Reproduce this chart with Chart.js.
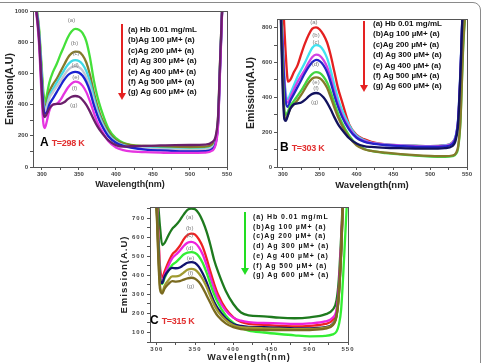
<!DOCTYPE html>
<html>
<head>
<meta charset="utf-8">
<script src="https://cdn.jsdelivr.net/npm/chart.js@4.4.0/dist/chart.umd.min.js"></script>
<style>
  body { margin: 0; width: 487px; height: 363px; overflow: hidden; background: #fff; position: relative;
         font-family: "Liberation Sans", Arial, sans-serif; }
  .frame { position: absolute; left: -10px; top: 2px; width: 489px; height: 400px; border: 1px solid #8a8a8a; border-radius: 8px; }
  .panel { position: absolute; }
  .legend { position: absolute; font-weight: bold; font-size: 8px; line-height: 10.4px; color: #111; white-space: nowrap; }
  .legend.wide { font-size: 7px; letter-spacing: 0.9px; line-height: 9.7px; }
  .arrow { position: absolute; width: 2px; }
  .arrow::after { content: ""; position: absolute; left: -3px; bottom: -6px; border-left: 4px solid transparent;
                  border-right: 4px solid transparent; border-top: 7px solid currentColor; }
  .tag { position: absolute; font-weight: bold; white-space: nowrap; }
  .tag b { font-size: 12px; color: #000; margin-right: 3px; }
  .tag span { font-size: 9px; color: #e23030; letter-spacing: -0.3px; }
</style>
</head>
<body>
<div class="frame"></div>

<div class="panel" style="left:0;top:0"><canvas id="chartA" width="236" height="192"></canvas></div>
<div class="panel" style="left:241px;top:0"><canvas id="chartB" width="234" height="192"></canvas></div>
<div class="panel" style="left:115px;top:195px"><canvas id="chartC" width="241" height="168"></canvas></div>

<div class="arrow" style="left:121px;top:24px;height:70px;background:#e52222;color:#e52222"></div>
<div class="legend" style="left:128px;top:25px">
  (a) Hb 0.01 mg/mL<br>(b)Ag 100 µM+ (a)<br>(c)Ag 200 µM+ (a)<br>(d) Ag 300 µM+ (a)<br>(e) Ag 400 µM+ (a)<br>(f) Ag 500 µM+ (a)<br>(g) Ag 600 µM+ (a)
</div>
<div class="tag" style="left:40px;top:132px"><b>A</b><span>T=298 K</span></div>

<div class="arrow" style="left:363px;top:21px;height:65px;background:#e52222;color:#e52222"></div>
<div class="legend" style="left:373px;top:19px">
  (a) Hb 0.01 mg/mL<br>(b)Ag 100 µM+ (a)<br>(c)Ag 200 µM+ (a)<br>(d) Ag 300 µM+ (a)<br>(e) Ag 400 µM+ (a)<br>(f) Ag 500 µM+ (a)<br>(g) Ag 600 µM+ (a)
</div>
<div class="tag" style="left:280px;top:137px"><b>B</b><span>T=303 K</span></div>

<div class="arrow" style="left:244px;top:212px;height:57px;background:#22dd22;color:#22dd22"></div>
<div class="legend wide" style="left:253px;top:212px">
  (a) Hb 0.01 mg/mL<br>(b)Ag 100 µM+ (a)<br>(c)Ag 200 µM+ (a)<br>(d) Ag 300 µM+ (a)<br>(e) Ag 400 µM+ (a)<br>(f) Ag 500 µM+ (a)<br>(g) Ag 600 µM+ (a)
</div>
<div class="tag" style="left:150px;top:310px"><b>C</b><span>T=315 K</span></div>

<script>
'use strict';

// ***** DATA *****
const wavelengths = [290, 296, 300, 302, 304, 307, 310, 315, 320, 325, 330, 335, 340, 345, 350, 355, 360, 365,
  370, 375, 380, 390, 400, 410, 420, 440, 460, 480, 500, 520, 530, 535, 538, 541, 545, 550];
const curveNames = ['(a)', '(b)', '(c)', '(d)', '(e)', '(f)', '(g)'];
const xTickLabels = [300, 350, 400, 450, 500, 550];

// A, T=298 K
const a298 = [1100, 900, 620, 480, 415, 470, 540, 610, 660, 720, 775, 830, 868, 885, 880, 858, 805, 700, 560, 450, 370, 245, 185, 155, 142, 133, 128, 125, 122, 125, 140, 180, 300, 700, 1100, 1100];
const b298 = [1100, 880, 580, 440, 385, 420, 480, 530, 565, 610, 655, 700, 728, 740, 738, 715, 670, 590, 480, 390, 320, 225, 172, 150, 140, 135, 132, 130, 128, 130, 145, 190, 320, 720, 1100, 1100];
const c298 = [1100, 870, 560, 420, 370, 400, 455, 500, 540, 580, 620, 655, 678, 685, 680, 658, 615, 545, 450, 365, 300, 210, 163, 140, 130, 122, 118, 115, 112, 115, 128, 170, 300, 700, 1100, 1100];
const d298 = [1100, 860, 550, 410, 360, 390, 440, 480, 515, 550, 588, 620, 640, 645, 640, 618, 575, 510, 425, 345, 288, 203, 160, 138, 128, 120, 115, 112, 110, 112, 125, 168, 295, 690, 1100, 1100];
const e298 = [1100, 850, 530, 390, 340, 355, 400, 440, 480, 520, 558, 588, 604, 610, 605, 585, 545, 485, 400, 330, 275, 195, 155, 135, 125, 112, 106, 102, 100, 102, 115, 160, 285, 680, 1100, 1100];
const f298 = [1100, 800, 420, 280, 250, 300, 360, 400, 405, 430, 470, 508, 535, 547, 542, 520, 480, 420, 350, 285, 240, 165, 125, 108, 100, 95, 92, 90, 90, 92, 105, 150, 270, 660, 1100, 1100];
const g298 = [1100, 830, 480, 350, 320, 345, 375, 400, 405, 405, 415, 435, 450, 455, 450, 430, 398, 355, 305, 260, 225, 170, 140, 130, 133, 136, 138, 140, 141, 143, 160, 205, 330, 720, 1100, 1100];

// B, T=303 K
const a303 = [1000, 1000, 950, 800, 640, 490, 500, 545, 585, 650, 710, 760, 795, 802, 790, 760, 715, 640, 545, 450, 380, 245, 185, 160, 145, 130, 125, 122, 120, 125, 140, 180, 260, 500, 900, 1000];
const b303 = [1000, 1000, 700, 520, 420, 390, 420, 470, 520, 560, 600, 645, 685, 700, 695, 670, 625, 555, 470, 390, 330, 240, 180, 155, 140, 130, 125, 122, 120, 125, 140, 185, 280, 550, 950, 1000];
const c303 = [1000, 1000, 680, 500, 400, 370, 400, 445, 490, 525, 560, 600, 632, 645, 640, 615, 575, 510, 430, 360, 305, 225, 172, 150, 138, 128, 124, 120, 118, 122, 138, 180, 275, 540, 950, 1000];
const d303 = [1000, 1000, 650, 470, 370, 345, 380, 420, 460, 500, 540, 575, 602, 615, 608, 585, 545, 485, 410, 345, 292, 215, 168, 146, 135, 125, 120, 116, 115, 118, 132, 175, 270, 530, 950, 1000];
const e303 = [1000, 980, 520, 330, 300, 320, 350, 380, 410, 440, 475, 510, 535, 545, 540, 520, 485, 430, 365, 305, 255, 180, 130, 105, 92, 80, 72, 65, 60, 58, 62, 75, 110, 250, 700, 1000];
const f303 = [1000, 970, 480, 300, 275, 300, 335, 360, 385, 415, 450, 485, 508, 515, 510, 490, 455, 400, 340, 285, 240, 170, 125, 102, 92, 82, 74, 68, 64, 62, 66, 80, 120, 260, 720, 1000];
const g303 = [1000, 960, 420, 275, 265, 300, 335, 360, 365, 370, 385, 405, 420, 425, 420, 400, 370, 330, 285, 245, 215, 165, 135, 120, 115, 110, 108, 106, 105, 108, 120, 160, 250, 520, 950, 1000];

// C, T=315 K
const a315 = [900, 900, 850, 760, 660, 560, 570, 610, 645, 665, 690, 720, 745, 752, 748, 725, 685, 630, 560, 480, 420, 320, 250, 205, 190, 185, 178, 175, 180, 195, 220, 270, 380, 600, 900, 900];
const b315 = [900, 900, 800, 620, 450, 390, 420, 470, 510, 530, 555, 590, 612, 620, 615, 590, 550, 490, 420, 355, 300, 225, 180, 155, 145, 140, 135, 132, 135, 145, 165, 210, 320, 550, 900, 900];
const c315 = [900, 900, 780, 600, 420, 370, 400, 450, 490, 510, 530, 555, 572, 577, 570, 548, 510, 455, 390, 330, 280, 215, 178, 162, 155, 150, 148, 145, 148, 158, 178, 220, 330, 560, 900, 900];
const d315 = [900, 900, 760, 570, 400, 355, 385, 425, 455, 470, 490, 510, 520, 523, 518, 500, 465, 415, 355, 300, 255, 190, 150, 125, 110, 100, 92, 85, 80, 82, 90, 105, 140, 220, 500, 900];
const e315 = [900, 900, 740, 540, 380, 360, 395, 425, 440, 438, 442, 455, 467, 470, 465, 445, 410, 365, 310, 260, 225, 175, 145, 135, 130, 128, 125, 122, 122, 128, 145, 190, 300, 520, 900, 900];
const f315 = [900, 900, 720, 500, 350, 315, 345, 375, 395, 395, 400, 415, 430, 435, 430, 410, 380, 340, 290, 245, 210, 165, 138, 128, 125, 122, 120, 118, 118, 125, 142, 188, 295, 515, 900, 900];
const g315 = [900, 900, 700, 480, 330, 305, 330, 355, 370, 368, 370, 378, 385, 388, 383, 365, 335, 295, 255, 215, 185, 148, 128, 118, 115, 113, 112, 112, 113, 120, 138, 185, 290, 510, 900, 900];

// where the little (a)..(g) tags sit, in data units
const tagX298 = [340, 344, 346, 345, 346, 344, 343];
const tagY298 = [938, 793, 729, 654, 572, 504, 395];
const tagX303 = [342, 345, 345, 344, 345, 345, 343];
const tagY303 = [833, 756, 716, 592, 487, 450, 373];
const tagX315 = [343, 343, 343, 343, 344, 344, 344];
const tagY315 = [703, 650, 610, 541, 492, 410, 341];

const yTicks298 = [0, 200, 400, 600, 800, 1000];
const yTicks303 = [0, 200, 400, 600, 800];
const yTicks315 = [100, 200, 300, 400, 500, 600, 700];

// ***** PLUGINS *****
const plotFrame = {
  id: 'plotFrame',
  beforeDraw(chart, args, opts) {
    chart.ctx.letterSpacing = opts.spacing || '0px';
  },
  afterDatasetsDraw(chart) {
    const {ctx, chartArea: a} = chart;
    ctx.save();
    ctx.strokeStyle = '#555';
    ctx.lineWidth = 1;
    ctx.strokeRect(Math.round(a.left) + 0.5, Math.round(a.top) + 0.5, Math.round(a.right - a.left), Math.round(a.bottom - a.top));
    ctx.restore();
  },
  afterDraw(chart, args, opts) {
    const {ctx, scales} = chart;
    ctx.save();
    ctx.letterSpacing = '0px';
    ctx.font = '6px "Liberation Sans", Arial, sans-serif';
    ctx.fillStyle = '#7a7a7a';
    ctx.textAlign = 'center';
    ctx.textBaseline = 'middle';
    (opts.tagX || []).forEach((x, i) => {
      ctx.fillText(curveNames[i], scales.x.getPixelForValue(x), scales.y.getPixelForValue(opts.tagY[i]));
    });
    ctx.restore();
  }
};

// ***** CHART BUILDER *****
function makeSeries(list, colors) {
  return list.map((values, i) => ({
    label: curveNames[i],
    data: wavelengths.map((w, j) => ({x: w, y: values[j]})),
    borderColor: colors[i],
    borderWidth: 2.3,
    pointRadius: 0,
    fill: false,
    cubicInterpolationMode: 'monotone'
  }));
}

function axisFont(size) {
  return {family: '"Liberation Sans", Arial, sans-serif', size: size, weight: 'bold'};
}

function renderPanel(id, series, colors, o) {
  new Chart(document.getElementById(id), {
    type: 'line',
    data: {datasets: makeSeries(series, colors).reverse()},
    plugins: [plotFrame],
    options: {
      responsive: false,
      animation: false,
      layout: {padding: {top: o.padTop, right: o.padRight, left: 0, bottom: 0}},
      plugins: {
        legend: {display: false},
        tooltip: {enabled: false},
        plotFrame: {tagX: o.tagX, tagY: o.tagY, spacing: o.spacing}
      },
      scales: {
        x: {
          type: 'linear', min: o.xMin, max: 550,
          afterFit(s) { s.height = o.xH; },
          afterBuildTicks(s) {
            const t = [];
            for (let v = 300; v <= 550; v += 25) t.push({value: v});
            s.ticks = t;
          },
          ticks: {
            autoSkip: false, maxRotation: 0, padding: 1, color: '#444', font: axisFont(6),
            callback: v => xTickLabels.includes(v) ? String(v) : ''
          },
          grid: {drawOnChartArea: false, tickLength: 3, color: '#555'},
          border: {display: false},
          title: {display: true, text: 'Wavelength(nm)', color: '#222', font: axisFont(o.xTitleSize), padding: {top: 0, bottom: o.titlePad}}
        },
        y: {
          min: o.yMin, max: o.yMax,
          afterFit(s) { s.width = o.yW; },
          afterBuildTicks(s) {
            const t = [];
            for (let v = o.yFirst; v <= o.yMax; v += o.yMinor) t.push({value: v});
            s.ticks = t;
          },
          ticks: {
            autoSkip: false, padding: 2, color: '#444', font: axisFont(6),
            callback: v => o.yLabels.includes(v) ? String(v) : ''
          },
          grid: {drawOnChartArea: false, tickLength: 3, color: '#555'},
          border: {display: false},
          title: {display: true, text: 'Emission(A.U)', color: '#222', font: axisFont(o.yTitleSize), padding: {top: 4, bottom: 0}}
        }
      }
    }
  });
}

// ***** EXECUTABLE CODE *****
renderPanel('chartA', [a298, b298, c298, d298, e298, f298, g298],
  ['#44e03a', '#857a2a', '#3fd9e6', '#c4c6d0', '#1a22d0', '#e535e0', '#6a1f6a'],
  {padTop: 11, padRight: 9, xMin: 288, xH: 25, yW: 33, yMin: 0, yMax: 1000, yFirst: 0, yMinor: 100,
   yLabels: yTicks298, titlePad: 2, tagX: tagX298, tagY: tagY298, xTitleSize: 9, yTitleSize: 10.5});

renderPanel('chartB', [a303, b303, c303, d303, e303, f303, g303],
  ['#e42020', '#3fe2f0', '#d042e4', '#2424c8', '#42d442', '#857a2a', '#12125e'],
  {padTop: 19, padRight: 8, xMin: 292, xH: 25, yW: 36, yMin: 0, yMax: 850, yFirst: 0, yMinor: 100,
   yLabels: yTicks303, titlePad: 1, tagX: tagX303, tagY: tagY303, xTitleSize: 9.5, yTitleSize: 10.5});

renderPanel('chartC', [a315, b315, c315, d315, e315, f315, g315],
  ['#1e7a1e', '#ee2222', '#ee22dd', '#33ee33', '#12126e', '#a09a30', '#7a6a20'],
  {padTop: 12, padRight: 8, xMin: 291, xH: 21, yW: 35, yMin: 50, yMax: 760, yFirst: 50, yMinor: 50,
   yLabels: yTicks315, titlePad: 0, tagX: tagX315, tagY: tagY315, spacing: '1px', xTitleSize: 9, yTitleSize: 9.5});
</script>
</body>
</html>
